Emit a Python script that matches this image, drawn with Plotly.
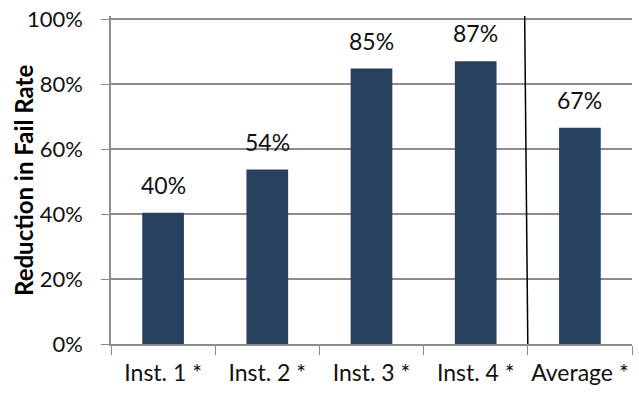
import plotly.graph_objects as go

categories = ["Inst. 1 *", "Inst. 2 *", "Inst. 3 *", "Inst. 4 *", "Average *"]
values = [0.404, 0.537, 0.848, 0.871, 0.666]
labels = ["40%", "54%", "85%", "87%", "67%"]
y_title = "Reduction in Fail Rate"

FONT = "Lato"
bar_color = "#27405F"
grid_color = "#8C8C8C"

fig = go.Figure()
fig.add_trace(go.Bar(x=categories, y=values, marker=dict(color=bar_color, line=dict(width=0)),
                     width=0.4, hoverinfo="skip"))

for c, v, t in zip(categories, values, labels):
    fig.add_annotation(x=c, y=v, text=t, showarrow=False, yanchor="bottom", yshift=12,
                       font=dict(family=FONT, size=23, color="#111"))

fig.add_annotation(x=-0.169, y=0.5, xref="paper", yref="paper", text="<b>" + y_title + "</b>",
                   textangle=-90, showarrow=False, xanchor="center", yanchor="middle",
                   font=dict(family=FONT, size=24, color="#000"))

# separator line between Inst. 4 and Average
fig.add_shape(type="line", xref="x", yref="y", x0=3.47, x1=3.5, y0=1.01, y1=0,
              line=dict(color="black", width=1.5))

fig.update_layout(
    width=639, height=395,
    margin=dict(l=111, r=7, t=16, b=51, autoexpand=False),
    plot_bgcolor="white", paper_bgcolor="white",
    showlegend=False,
    font=dict(family=FONT, size=21, color="#111"),
    xaxis=dict(type="category", tickson="boundaries", ticks="outside", ticklen=9,
               tickcolor=grid_color, showline=True, linecolor=grid_color, linewidth=1.5,
               showgrid=False, tickfont=dict(family=FONT, size=23), ticklabelstandoff=8,
               tickangle=0, automargin=False),
    yaxis=dict(range=[0, 1.01], tickvals=[0, 0.2, 0.4, 0.6, 0.8, 1.0], tickformat=".0%",
               ticks="outside", ticklen=8, tickcolor=grid_color, showline=True,
               linecolor=grid_color, linewidth=1.5, showgrid=True, gridcolor=grid_color,
               gridwidth=1.5, zeroline=False, tickfont=dict(family=FONT, size=22),
               ticklabelstandoff=14, automargin=False),
)

fig.write_html("out.html")
